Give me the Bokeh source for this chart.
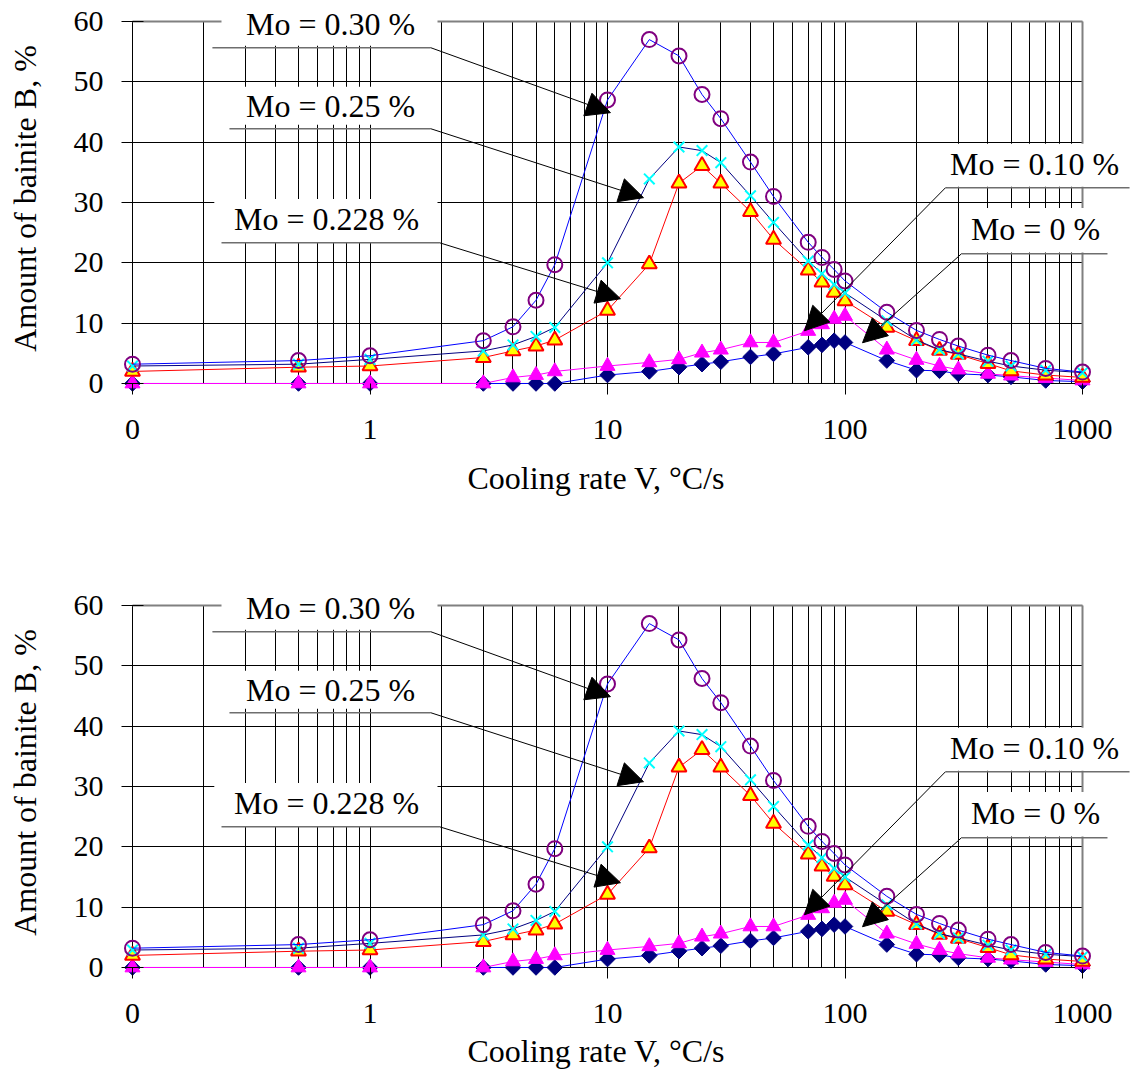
import numpy as np
from bokeh.plotting import figure
from bokeh.layouts import column
from bokeh.models import (Range1d, FixedTicker, Label, Arrow, NormalHead,
                          BoxAnnotation, CustomJSTickFormatter, Title)
from bokeh.embed import file_html
from bokeh.resources import INLINE

# ---------------- data ----------------
cooling_rate = [0.1, 0.5, 1, 3, 4, 5, 6, 10, 15, 20, 25, 30, 40, 50, 70, 80, 90,
                100, 150, 200, 250, 300, 400, 500, 700, 1000]
mo_0_30 = [3.2, 3.8, 4.6, 7.1, 9.4, 13.8, 19.7, 47.0, 57.0, 54.3, 47.9, 43.9, 36.7,
           31.0, 23.4, 20.9, 18.9, 17.0, 11.8, 8.8, 7.3, 6.2, 4.7, 3.8, 2.5, 1.9]
mo_0_25 = [2.9, 3.2, 4.0, 5.4, 6.4, 7.8, 9.3, 20.0, 33.9, 39.2, 38.6, 36.6, 31.1,
           26.7, 20.3, 18.2, 16.4, 15.0, 10.4, 7.2, 5.6, 4.9, 3.7, 2.9, 2.2, 1.8]
mo_0_228 = [2.0, 2.7, 2.9, 4.3, 5.4, 6.2, 7.2, 12.1, 19.8, 33.2, 36.1, 33.2, 28.5,
            23.9, 18.8, 16.8, 15.1, 13.7, 9.3, 7.1, 5.5, 4.8, 3.3, 2.1, 1.4, 1.0]
mo_0_10 = [0, 0, 0, 0, 1.0, 1.4, 2.0, 2.9, 3.5, 4.0, 5.1, 5.6, 6.8, 6.8, 8.7, 9.8,
           10.7, 11.2, 5.6, 3.9, 2.9, 2.3, 1.6, 1.3, 0.9, 0.5]
mo_0 = [0, 0, 0, 0, 0, 0, 0, 1.4, 2.0, 2.7, 3.2, 3.6, 4.4, 4.9, 6.0, 6.4, 7.1, 6.8,
        3.8, 2.2, 2.1, 1.6, 1.4, 1.1, 0.5, 0.3]

x_major = [0.1, 1, 10, 100, 1000]
x_minor = [0.2, 0.3, 0.4, 0.5, 0.6, 0.7, 0.8, 0.9,
           2, 3, 4, 5, 6, 7, 8, 9,
           20, 30, 40, 50, 60, 70, 80, 90,
           200, 300, 400, 500, 600, 700, 800, 900]
y_ticks = [0, 10, 20, 30, 40, 50, 60]
x_lim = (0.1, 1000)
y_lim = (0, 60)

# annotations (label text, white box, leader elbow, arrow tip) in data units
ann_text = ["Mo = 0.30 %", "Mo = 0.25 %", "Mo = 0.228 %", "Mo = 0.10 %", "Mo = 0 %"]
ann_text_x = [0.682, 0.682, 0.656, 628, 634]
ann_text_y = [59.65, 46.05, 27.3, 36.4, 25.65]
box_left = [0.237, 0.256, 0.221, 273, 306]
box_right = [1.924, 1.924, 1.924, 1592, 1592]
box_top = [63.5, 49.2, 30.6, 39.75, 29.1]
box_bottom = [56.0, 42.9, 23.3, 32.6, 21.7]
lead_far_x = [0.217, 0.256, 0.237, 1578, 1274]
lead_elbow_x = [1.798, 1.798, 1.961, 265, 309.4]
lead_y = [55.67, 42.24, 23.33, 32.45, 21.51]
tip_x = [10.29, 14.18, 11.34, 67.5, 118.5]
tip_y = [44.89, 30.80, 14.05, 8.74, 6.75]

FONT = "Liberation Serif"

series = [
    dict(y=mo_0, line="#0000FF", marker="square", angle=np.pi / 4, size=11,
         fill="#000080", edge="#000080", lw=1),
    dict(y=mo_0_10, line="#FF00FF", marker="triangle", angle=0, size=15,
         fill="#FF00FF", edge="#FF00FF", lw=1),
    dict(y=mo_0_228, line="#FF0000", marker="triangle", angle=0, size=15,
         fill="#FFFF00", edge="#FF0000", lw=2),
    dict(y=mo_0_25, line="#000080", marker="x", angle=0, size=15,
         fill=None, edge="#00FFFF", lw=2),
    dict(y=mo_0_30, line="#0000FF", marker="circle", angle=0, size=15,
         fill=None, edge="#800080", lw=2),
]

# The frame is a little larger than the data area, so that edge markers,
# the tick marks and the labels outside the grid are not clipped.
DEC_PX = 237.5      # pixels per decade on x
UNIT_PX = 6.033     # pixels per unit on y
PAD_L, PAD_B, PAD_T = 11, 11, 19
FIG_W = 1130
BORDER_L = 121
FRAME_W = FIG_W - BORDER_L
FRAME_H = 362 + PAD_B + PAD_T
x_start = x_lim[0] / 10 ** (PAD_L / DEC_PX)
x_end = x_start * 10 ** (FRAME_W / DEC_PX)
y_start = y_lim[0] - PAD_B / UNIT_PX
y_end = y_lim[1] + PAD_T / UNIT_PX


def make_panel(height, tick_standoff, title_standoff):
    border_bottom = height - 2 - FRAME_H
    p = figure(width=FIG_W, height=height, x_axis_type="log",
               x_range=Range1d(x_start, x_end), y_range=Range1d(y_start, y_end),
               output_backend="svg", toolbar_location=None,
               min_border_left=BORDER_L, min_border_right=0, min_border_top=2,
               min_border_bottom=border_bottom,
               y_axis_label="Amount of bainite B, %")
    p.background_fill_color = "white"
    p.border_fill_color = "white"
    p.outline_line_color = None

    xt = FixedTicker(ticks=x_major, minor_ticks=x_minor)
    p.xaxis.ticker = xt
    p.xgrid.ticker = xt
    p.xaxis.formatter = CustomJSTickFormatter(
        code="return tick < 0.5 ? '0' : String(Math.round(tick));")
    yt = FixedTicker(ticks=y_ticks)
    p.yaxis.ticker = yt
    p.ygrid.ticker = yt

    p.xgrid.grid_line_color = "black"
    p.xgrid.grid_line_width = 1
    p.xgrid.minor_grid_line_color = "black"
    p.xgrid.minor_grid_line_width = 1
    p.ygrid.grid_line_color = "black"
    p.ygrid.grid_line_width = 1
    try:
        p.xgrid.cross_bounds = y_lim
        p.ygrid.cross_bounds = x_lim
    except Exception:
        pass

    for ax in (p.xaxis, p.yaxis):
        ax.axis_line_color = None
        ax.major_tick_line_color = "black"
        ax.major_tick_line_width = 1
        ax.minor_tick_line_color = None
        ax.major_label_text_font = FONT
        ax.major_label_text_font_size = "30px"
        ax.major_label_text_color = "black"
        ax.axis_label_text_font = FONT
        ax.axis_label_text_font_size = "32px"
        ax.axis_label_text_font_style = "normal"
        ax.axis_label_text_color = "black"
    # ticks start at the frame edge and reach (x: up to y=0) / (y: across x=0.1)
    p.xaxis.major_tick_out = 0
    p.xaxis.major_tick_in = PAD_B
    p.xaxis.major_label_standoff = tick_standoff
    p.yaxis.major_tick_out = 0
    p.yaxis.major_tick_in = 2 * PAD_L
    p.yaxis.major_label_standoff = 18
    p.yaxis.axis_label_standoff = 28

    p.add_layout(Title(text="Cooling rate V, °C/s", align="left", offset=346,
                       standoff=title_standoff, text_font=FONT,
                       text_font_size="32px", text_font_style="normal",
                       text_color="black"), "below")

    # white masks over the padding strips (under the data)
    for kw in (dict(right=x_lim[0]), dict(left=x_lim[1]),
               dict(top=y_lim[0]), dict(bottom=y_lim[1])):
        p.add_layout(BoxAnnotation(fill_color="white", fill_alpha=1.0,
                                   line_color=None, level="underlay", **kw))
    # axis lines at the data limits, grey top / right border
    p.segment(x0=[x_lim[0], x_lim[0]], y0=[y_lim[0], y_lim[0]],
              x1=[x_lim[0], x_lim[1]], y1=[y_lim[1], y_lim[0]],
              line_color="black", line_width=1)
    p.segment(x0=[x_lim[0], x_lim[1]], y0=[y_lim[1], y_lim[0]],
              x1=[x_lim[1], x_lim[1]], y1=[y_lim[1], y_lim[1]],
              line_color="#808080", line_width=2)

    for s in series:
        p.line(cooling_rate, s["y"], line_color=s["line"], line_width=1)
        p.scatter(cooling_rate, s["y"], marker=s["marker"], angle=s["angle"],
                  size=s["size"], fill_color=s["fill"], line_color=s["edge"],
                  line_width=s["lw"])

    for i in range(len(ann_text)):
        p.add_layout(BoxAnnotation(left=box_left[i], right=box_right[i],
                                   top=box_top[i], bottom=box_bottom[i],
                                   fill_color="white", fill_alpha=1.0,
                                   line_color=None))
    for i in range(len(ann_text)):
        p.add_layout(Arrow(end=None, x_start=lead_far_x[i], y_start=lead_y[i],
                           x_end=lead_elbow_x[i], y_end=lead_y[i],
                           line_color="#6e6e6e", line_width=1.5))
        p.add_layout(Arrow(end=NormalHead(size=24, fill_color="black",
                                          line_color="black", line_width=1),
                           x_start=lead_elbow_x[i], y_start=lead_y[i],
                           x_end=tip_x[i], y_end=tip_y[i],
                           line_color="black", line_width=1))
        p.add_layout(Label(x=ann_text_x[i], y=ann_text_y[i], text=ann_text[i],
                           text_align="center", text_baseline="middle",
                           text_font=FONT, text_font_size="32px",
                           text_color="black"))
    return p


p1 = make_panel(584, 21, 32)
p2 = make_panel(494, 21, 10)
layout = column(p1, p2)

open("out.html", "w").write(file_html(layout, INLINE))
